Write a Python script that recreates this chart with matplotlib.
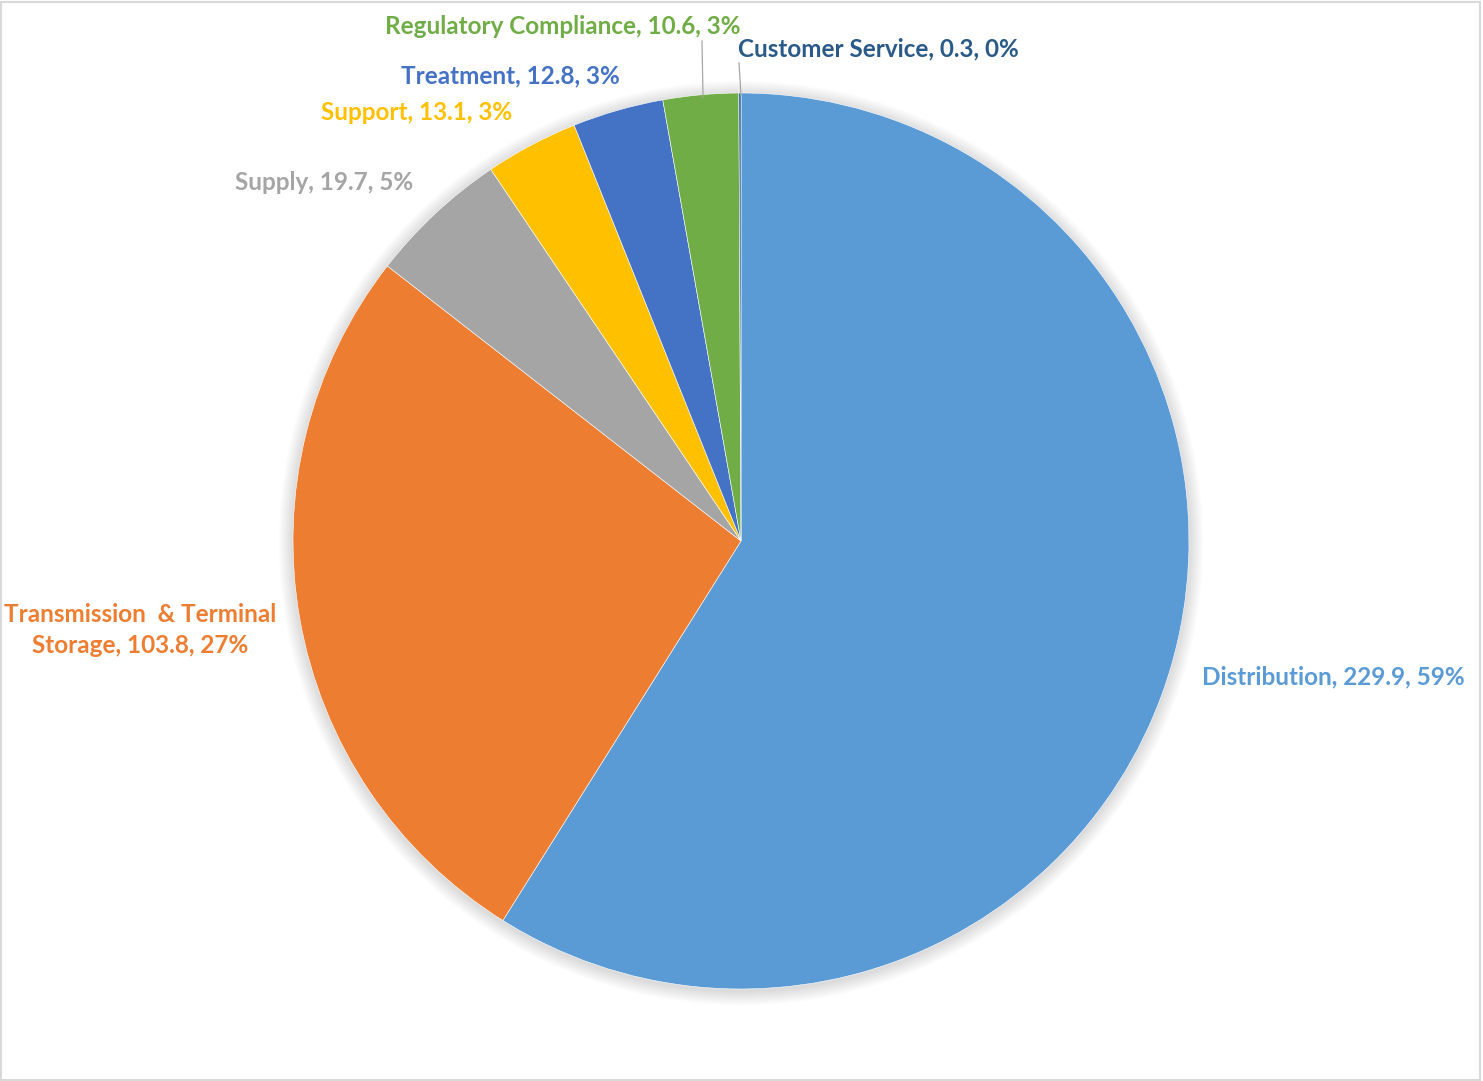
import matplotlib
matplotlib.use("Agg")
import matplotlib.pyplot as plt
from matplotlib.patches import Circle, Rectangle

categories = ["Distribution", "Transmission & Terminal Storage", "Supply", "Support",
              "Treatment", "Regulatory Compliance", "Customer Service"]
values = [229.9, 103.8, 19.7, 13.1, 12.8, 10.6, 0.3]
percents = ["59%", "27%", "5%", "3%", "3%", "3%", "0%"]
colors = ["#5B9BD5", "#ED7D31", "#A5A5A5", "#FFC000", "#4472C4", "#70AD47", "#255E91"]
label_colors = ["#5B9BD5", "#ED7D31", "#A5A5A5", "#FFC000", "#4472C4", "#70AD47", "#2A5A88"]

W, H = 1483, 1081
fig = plt.figure(figsize=(W / 100, H / 100), dpi=100)
ax = fig.add_axes([0, 0, 1, 1])
ax.set_xlim(0, W)
ax.set_ylim(0, H)
ax.set_aspect("equal")
ax.axis("off")

cx, cy, r = 741, H - 541, 448

# soft shadow
for i in range(12):
    ax.add_patch(Circle((cx, cy - 2), r + 1 + i * 1.2, color="black", alpha=0.012, lw=0, zorder=0))

ax.pie(values, colors=colors, startangle=90, counterclock=False, center=(cx, cy),
       radius=r, wedgeprops=dict(edgecolor="white", linewidth=0.4), frame=True)
ax.set_xlim(0, W)
ax.set_ylim(0, H)
ax.axis("off")

font = dict(family=["Lato", "DejaVu Sans"], fontsize=17.5, fontweight="bold")

# label positions (pixel coords from top)
pos = [(1333, 677), (140, 630), (324, 183), (417, 112), (510, 76), (563, 27), (878, 49)]
for i, (name, v, p) in enumerate(zip(categories, values, percents)):
    if i == 1:
        txt = "Transmission  & Terminal\nStorage, %.1f, %s" % (v, p)
    else:
        txt = "%s, %.1f, %s" % (name, v, p)
    x, y = pos[i]
    ax.text(x, H - y, txt, color=label_colors[i], ha="center", va="center",
            linespacing=1.45, **font)

# leader lines
ax.plot([702, 703], [H - 41, H - 97], color="#A6A6A6", lw=0.9)
ax.plot([739, 741], [H - 63, H - 95], color="#A6A6A6", lw=0.9)

# outer border
fig.patches.append(Rectangle((0.001, 0.001), 0.997, 0.997, transform=fig.transFigure,
                             fill=False, edgecolor="#D9D9D9", lw=1.5))

fig.savefig("out.png", dpi=100, facecolor="white")
